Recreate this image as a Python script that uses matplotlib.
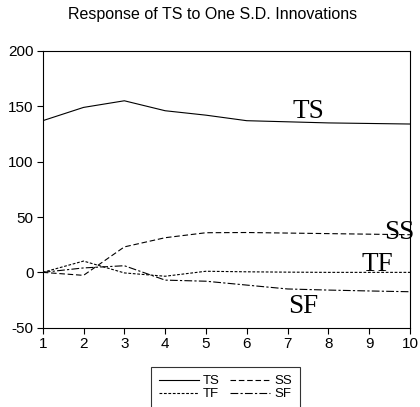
import matplotlib
matplotlib.use('Agg')
import matplotlib.pyplot as plt

# impulse responses of TS to one S.D. innovations
periods = [1, 2, 3, 4, 5, 6, 7, 8, 9, 10]
ts = [137, 149, 155, 146, 142, 137, 136, 135, 134.5, 134]
ss = [0, -2.7, 23, 31.3, 35.8, 36, 35.5, 35, 34.5, 34]
tf = [0, 10.2, -0.5, -3.5, 1, 0.5, 0.2, 0, 0, 0]
sf = [0, 4, 6, -7, -8, -11.5, -15, -16, -16.8, -17.5]
x_ticks = [1, 2, 3, 4, 5, 6, 7, 8, 9, 10]
y_ticks = [-50, 0, 50, 100, 150, 200]

plt.rcParams['font.family'] = ['Liberation Sans', 'DejaVu Sans']
plt.rcParams['axes.unicode_minus'] = False

fig = plt.figure(figsize=(4.2, 4.07), dpi=100)
ax = fig.add_axes([0.1017, 0.1948, 0.8745, 0.68])

lw = 0.8
ax.plot(periods, ts, color='black', lw=lw, ls='-', label='TS')
ax.plot(periods, ss, color='black', lw=lw, ls=(0, (5, 2.5)), label='SS')
ax.plot(periods, tf, color='black', lw=lw, ls=(0, (2.5, 1.5)), label='TF')
ax.plot(periods, sf, color='black', lw=lw, ls=(0, (7, 2, 2, 2)), label='SF')

ax.set_xlim(1, 10)
ax.set_ylim(-50, 200)
ax.set_xticks(x_ticks)
ax.set_yticks(y_ticks)
ax.tick_params(direction='out', length=4, width=0.8, labelsize=11, pad=2.5,
               top=False, right=False)
for s in ax.spines.values():
    s.set_linewidth(0.8)

ax.set_title('Response of TS to One S.D. Innovations', fontsize=11.5, pad=23, x=0.462)

serif = ['Liberation Serif', 'DejaVu Serif']
ax.text(7.5, 145, 'TS', family=serif, fontsize=19.5, ha='center', va='center')
ax.text(9.73, 36, 'SS', family=serif, fontsize=19.5, ha='center', va='center')
ax.text(9.2, 7.5, 'TF', family=serif, fontsize=19.5, ha='center', va='center')
ax.text(7.39, -30.5, 'SF', family=serif, fontsize=19.5, ha='center', va='center')

handles, labels = ax.get_legend_handles_labels()
order = [0, 2, 1, 3]
leg = fig.legend([handles[i] for i in order], [labels[i] for i in order],
                 ncol=2, loc='upper center', bbox_to_anchor=(0.537, 1 - 367.3 / 407),
                 fontsize=9.5, frameon=True, fancybox=False, handlelength=3.0,
                 handletextpad=0.3, columnspacing=0.8, borderpad=0.6,
                 labelspacing=0.05, borderaxespad=0)
leg.get_frame().set_edgecolor('black')
leg.get_frame().set_linewidth(0.8)

fig.savefig('out.png', dpi=100)
